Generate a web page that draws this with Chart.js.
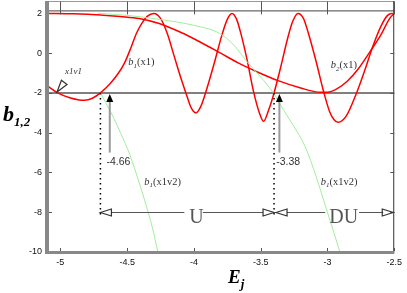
<!DOCTYPE html>
<html><head><meta charset="utf-8">
<script src="https://cdn.jsdelivr.net/npm/chart.js@4.4.1/dist/chart.umd.min.js"></script>
<style>html,body{margin:0;padding:0;background:#fff;overflow:hidden}#wrap{width:407px;height:293px}</style>
</head><body><div id="wrap"><canvas id="c" width="407" height="293"></canvas></div>
<script>
// ---- data ----
const xTicks = [-5, -4.5, -4, -3.5, -3, -2.5];
const yTicks = [-10, -8, -6, -4, -2, 0, 2];

const b1x1X = [-5.10,-5.02,-4.93,-4.82,-4.76,-4.70,-4.63,-4.57,-4.52,-4.47,-4.43,-4.39,-4.35,-4.30,-4.25,-4.20,-4.15,-4.10,-4.05,-4.02,-3.985,-3.95,-3.913,-3.85,-3.79,-3.75,-3.715,-3.68,-3.652,-3.603,-3.553,-3.51,-3.479,-3.44,-3.40,-3.35,-3.30,-3.26,-3.22,-3.18,-3.145,-3.083,-3.033,-2.983,-2.95,-2.92,-2.86,-2.785,-2.72,-2.66,-2.60,-2.55,-2.52,-2.50];
const b1x1Y = [-1.63,-2.0,-2.24,-2.37,-2.27,-2.0,-1.55,-1.05,-0.5,0.3,1.0,1.5,1.85,2.0,1.75,1.0,-0.1,-1.2,-2.2,-2.75,-3.0,-2.7,-2.0,-0.56,0.92,1.7,2.0,1.7,1.08,-0.3,-1.95,-3.0,-3.43,-2.85,-2.0,-0.7,0.7,1.6,2.0,1.75,1.05,-0.47,-1.83,-2.96,-3.35,-3.48,-3.17,-2.05,-0.85,0.35,1.35,1.9,2.0,1.98];

const b2x1X = [-5.10,-4.90,-4.70,-4.55,-4.41,-4.26,-4.10,-3.95,-3.80,-3.665,-3.516,-3.37,-3.20,-3.07,-3.00,-2.93,-2.85,-2.77,-2.68,-2.60,-2.535,-2.50];
const b2x1Y = [2.0,1.98,1.92,1.84,1.74,1.49,1.05,0.55,0.0,-0.5,-0.97,-1.38,-1.75,-1.96,-1.97,-1.8,-1.4,-0.8,0.09,0.92,1.74,2.0];

const v2RightX = [-4.72,-4.50,-4.26,-4.00,-3.81,-3.70,-3.60,-3.50,-3.405,-3.33,-3.25,-3.167,-3.085,-3.01,-2.96,-2.907];
const v2RightY = [2.0,1.9,1.7,1.4,1.0,0.4,-0.45,-1.2,-2.0,-2.85,-3.7,-4.7,-6.2,-7.8,-8.85,-10];

const v2LeftX = [-4.70,-4.62,-4.55,-4.48,-4.42,-4.36,-4.31,-4.27];
const v2LeftY = [-2.0,-3.0,-4.0,-5.1,-6.3,-7.6,-8.8,-10];

const levelY = -2;            // horizontal reference line
const crossLeft = -4.70, crossRight = -3.40;   // dotted lines
const arrowLeft = -4.63, arrowRight = -3.36;   // vertical arrows
const bandY = -8;             // U / DU arrow line
const labelLeft = "-4.66", labelRight = "-3.38";

const toPts = (xs, ys) => xs.map((x, i) => ({x, y: ys[i]}));

const SERIF = '"Liberation Serif", "DejaVu Serif", serif';
const SANS = '"Liberation Sans", Arial, sans-serif';

function rich(ctx, parts, x, y, align) {
  let w = 0;
  parts.forEach(p => { ctx.font = p.f; w += ctx.measureText(p.t).width; });
  let cx = align === 'center' ? x - w / 2 : x;
  parts.forEach(p => {
    ctx.font = p.f;
    ctx.fillText(p.t, cx, y + (p.dy || 0));
    cx += ctx.measureText(p.t).width;
  });
  return w;
}
function openHead(ctx, tx, ty, dx, dy, len, half) {
  const L = Math.hypot(dx, dy), ux = dx / L, uy = dy / L;
  const bx = tx - ux * len, by = ty - uy * len;
  ctx.beginPath();
  ctx.moveTo(tx, ty);
  ctx.lineTo(bx - uy * half, by + ux * half);
  ctx.lineTo(bx + uy * half, by - ux * half);
  ctx.closePath();
  ctx.stroke();
}

const deco = {
  id: 'deco',
  beforeDatasetsDraw(chart) {
    const {ctx, chartArea: a, scales: {x, y}} = chart;
    ctx.save();
    ctx.strokeStyle = '#555'; ctx.lineWidth = 1.5;
    ctx.beginPath();
    ctx.moveTo(a.left, y.getPixelForValue(levelY));
    ctx.lineTo(a.right, y.getPixelForValue(levelY));
    ctx.stroke();
    ctx.restore();
  },
  afterDatasetsDraw(chart) {
    const {ctx, chartArea: a, scales: {x, y}} = chart;
    const X = v => x.getPixelForValue(v), Y = v => y.getPixelForValue(v);
    ctx.save();
    // frame
    ctx.strokeStyle = '#444'; ctx.lineWidth = 1;
    ctx.beginPath(); ctx.moveTo(a.left, a.top + 0.5); ctx.lineTo(a.right, a.top + 0.5); ctx.stroke();
    ctx.strokeStyle = '#999';
    ctx.beginPath(); ctx.moveTo(a.left, 1.5); ctx.lineTo(a.right, 1.5); ctx.stroke();
    ctx.strokeStyle = '#333';
    ctx.beginPath(); ctx.moveTo(a.right - 0.5, 1); ctx.lineTo(a.right - 0.5, a.bottom); ctx.stroke();
    ctx.strokeStyle = '#555';
    xTicks.forEach(v => {
      const px = Math.round(X(v)) + 0.5;
      ctx.beginPath(); ctx.moveTo(px, 1.5); ctx.lineTo(px, a.top + 4); ctx.stroke();
      ctx.beginPath(); ctx.moveTo(px, a.bottom - 1); ctx.lineTo(px, a.bottom - 4); ctx.stroke();
    });
    yTicks.forEach(v => {
      const py = Math.round(Y(v)) + 0.5;
      ctx.beginPath(); ctx.moveTo(a.right, py); ctx.lineTo(a.right - 4, py); ctx.stroke();
      ctx.beginPath(); ctx.moveTo(a.left + 2, py); ctx.lineTo(a.left + 5, py); ctx.stroke();
    });
    ctx.strokeStyle = '#888';
    ctx.lineWidth = 4;
    ctx.beginPath(); ctx.moveTo(a.left, 1); ctx.lineTo(a.left, a.bottom + 2); ctx.stroke();
    ctx.lineWidth = 3;
    ctx.beginPath(); ctx.moveTo(a.left - 2, a.bottom + 0.5); ctx.lineTo(a.right, a.bottom + 0.5); ctx.stroke();

    // dotted verticals
    ctx.strokeStyle = '#000'; ctx.lineWidth = 1.5; ctx.setLineDash([1.5, 3.5]);
    [crossLeft, crossRight].forEach(v => {
      ctx.beginPath(); ctx.moveTo(X(v), Y(levelY)); ctx.lineTo(X(v), Y(bandY) + 4); ctx.stroke();
    });
    ctx.setLineDash([]);

    // vertical arrows
    [arrowLeft, arrowRight].forEach(v => {
      const px = X(v), tip = Y(levelY) + 1;
      ctx.strokeStyle = '#9a9a9a'; ctx.lineWidth = 2;
      ctx.beginPath(); ctx.moveTo(px, tip + 6); ctx.lineTo(px, Y(-5.0)); ctx.stroke();
      ctx.fillStyle = '#000';
      ctx.beginPath(); ctx.moveTo(px, tip); ctx.lineTo(px - 3.5, tip + 8); ctx.lineTo(px + 3.5, tip + 8); ctx.closePath(); ctx.fill();
    });
    ctx.fillStyle = '#333';
    ctx.font = '10.5px ' + SANS; ctx.textAlign = 'left'; ctx.textBaseline = 'alphabetic';
    ctx.fillText(labelLeft, X(-4.655), Y(-5.62));
    ctx.fillText(labelRight, X(-3.384), Y(-5.62));

    // U / DU band
    const by = Math.round(Y(bandY)) + 0.5;
    ctx.font = '20px ' + SERIF;
    ctx.fillStyle = '#555';
    ctx.textAlign = 'center';
    const uC = X(-3.98), duC = X(-2.879);
    const uW = ctx.measureText('U').width, duW = ctx.measureText('DU').width;
    ctx.fillText('U', uC, Y(-8.52));
    ctx.fillText('DU', duC, Y(-8.55));
    ctx.strokeStyle = '#555'; ctx.lineWidth = 1;
    const seg = (x1, x2) => { ctx.beginPath(); ctx.moveTo(x1, by); ctx.lineTo(x2, by); ctx.stroke(); };
    const l1 = X(crossLeft), r1 = X(crossRight), r2 = a.right;
    seg(l1 + 11, uC - uW / 2 - 5); seg(uC + uW / 2 - 1, r1 - 11);
    seg(r1 + 13, duC - duW / 2 - 4); seg(duC + duW / 2 + 1, r2 - 11);
    ctx.lineWidth = 1.2; ctx.strokeStyle = '#333';
    openHead(ctx, l1, by, -1, 0, 11, 3.5);
    openHead(ctx, r1, by, 1, 0, 11, 3.5);
    openHead(ctx, r1 + 2, by, -1, 0, 11, 3.5);
    openHead(ctx, r2 - 1, by, 1, 0, 11, 3.5);

    // x1v1 pointer
    ctx.strokeStyle = '#333'; ctx.lineWidth = 1.2;
    openHead(ctx, X(-5.025), Y(-1.95), -0.75, 1, 12, 3.5);
    ctx.fillStyle = '#333'; ctx.textAlign = 'left';
    ctx.font = 'italic 9px ' + SERIF;
    ctx.fillText('x1v1', X(-4.966), Y(-1.05));

    // curve labels
    const lab = (xv, yv, sub, arg) => rich(ctx, [
      {t: 'b', f: 'italic 10.5px ' + SERIF},
      {t: sub, f: 'italic 7px ' + SERIF, dy: 2.5},
      {t: arg, f: '10.5px ' + SERIF}], X(xv), Y(yv));
    lab(-4.491, -0.62, '1', '(x1)');
    lab(-2.975, -0.76, '2', '(x1)');
    lab(-4.372, -6.62, '1', '(x1v2)');
    lab(-3.05, -6.62, '1', '(x1v2)');

    // axis titles
    ctx.fillStyle = '#000';
    rich(ctx, [{t: 'b', f: 'bold italic 22px ' + SERIF},
               {t: '1,2', f: 'bold italic 13px ' + SERIF, dy: 5}], 3, 121);
    rich(ctx, [{t: 'E', f: 'bold italic 19px ' + SERIF},
               {t: 'j', f: 'bold italic 13px ' + SERIF, dy: 5}], 228, 283);
    ctx.restore();
  }
};

const lineDs = (xs, ys, color, w) => ({
  data: toPts(xs, ys), showLine: true, borderColor: color, borderWidth: w,
  pointRadius: 0, fill: false, cubicInterpolationMode: 'monotone'
});

new Chart(document.getElementById('c'), {
  type: 'scatter',
  data: {
    datasets: [
      lineDs(v2LeftX, v2LeftY, '#a0ee9c', 1),
      lineDs(v2RightX, v2RightY, '#a0ee9c', 1),
      lineDs(b2x1X, b2x1Y, '#ff0000', 1.5),
      lineDs(b1x1X, b1x1Y, '#ff0000', 1.5)
    ]
  },
  options: {
    responsive: false, animation: false, devicePixelRatio: 1,
    layout: {padding: {top: 5, right: 10, bottom: 0, left: 0}},
    plugins: {legend: {display: false}, tooltip: {enabled: false}},
    scales: {
      x: {
        type: 'linear', min: -5.1, max: -2.5,
        afterBuildTicks: s => { s.ticks = xTicks.map(v => ({value: v})); },
        afterFit: s => { s.height = 41; },
        grid: {display: false, drawTicks: false}, border: {display: false},
        ticks: {font: {family: SANS, size: 9}, color: '#111', padding: 5, maxRotation: 0, autoSkip: false,
                callback: v => String(v)}
      },
      y: {
        type: 'linear', min: -10, max: 2.15,
        afterBuildTicks: s => { s.ticks = yTicks.map(v => ({value: v})); },
        afterFit: s => { s.width = 47; },
        grid: {display: false, drawTicks: false}, border: {display: false},
        ticks: {font: {family: SANS, size: 9}, color: '#111', padding: 5, autoSkip: false,
                callback: v => String(v)}
      }
    }
  },
  plugins: [deco]
});
</script>
</body></html>
